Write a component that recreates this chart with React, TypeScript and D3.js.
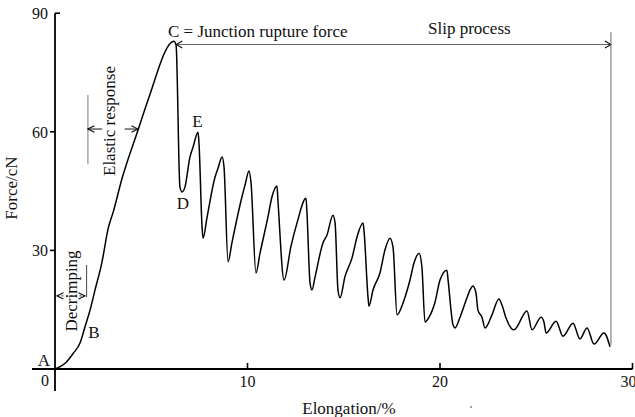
import React from "react";
import * as d3 from "d3";

const elongation: number[] = [
  0, 0.61, 0.95, 1.3, 1.56, 1.82, 2.08, 2.43, 2.77, 3.03, 3.46, 4.31, 4.83, 6.18, 6.29, 6.49, 6.6, 6.75,
  7.01, 7.17, 7.43, 7.48, 7.64, 7.69, 7.9, 8.31, 8.47, 8.68, 8.78, 8.99, 9.19, 9.71, 9.87, 10.08, 10.18,
  10.44, 10.65, 11.06, 11.27, 11.53, 11.58, 11.9, 12.26, 12.57, 13.04, 13.09, 13.25, 13.35, 13.51, 13.92,
  14.13, 14.44, 14.55, 14.7, 14.81, 15.06, 15.43, 15.69, 16.0, 16.05, 16.26, 16.31, 16.52, 16.88, 17.14,
  17.4, 17.56, 17.77, 18.08, 18.44, 18.65, 18.91, 19.06, 19.22, 19.43, 19.74, 20.0, 20.36, 20.42, 20.68,
  20.78, 21.04, 21.4, 21.56, 21.71, 21.87, 21.97, 22.18, 22.34, 22.7, 23.06, 23.22, 23.43, 23.84, 24.52,
  24.78, 25.25, 25.4, 25.51, 26.03, 26.39, 26.91, 27.27, 27.64, 28.0, 28.52, 28.62, 28.83,
];
const force: number[] = [
  0, 1.85, 3.97, 6.57, 10.7, 14.9, 20.0, 26.8, 35.7, 39.8, 47.8, 60.4, 68.0, 82.9, 81.9, 46.0, 44.8, 46.0,
  53.6, 56.1, 59.9, 57.1, 35.9, 33.1, 38.4, 48.5, 50.8, 53.6, 51.1, 27.1, 31.9, 43.5, 46.5, 50.1, 47.3,
  24.3, 29.3, 38.4, 43.5, 46.3, 42.7, 22.5, 31.1, 36.9, 43.2, 39.4, 21.7, 20.0, 23.3, 31.9,
  33.9, 38.9, 36.9, 20.0, 18.0, 23.3, 28.1, 33.4, 36.9, 35.1, 18.2, 15.9, 20.0, 24.3, 30.1,
  33.1, 30.8, 13.7, 16.7, 22.5, 26.8, 29.3, 25.8, 11.9, 13.1, 16.9, 22.5, 25.0, 22.5, 11.1,
  10.4, 13.1, 18.0, 20.0, 21.0, 19.2, 14.9, 13.1, 10.4, 13.7, 17.7, 16.2, 12.9, 9.9, 14.7,
  9.9, 13.1, 11.9, 9.1, 12.1, 8.3, 11.6, 7.6, 10.4, 6.3, 9.1, 8.6, 5.6,
];

const xTicks: number[] = [10, 20, 30];
const yTicks: number[] = [30, 60, 90];

const W = 635;
const H = 417;

export default function App() {
  const x = d3.scaleLinear().domain([0, 30]).range([55, 632.5]);
  const y = d3.scaleLinear().domain([0, 90]).range([369, 13.2]);
  const pts: [number, number][] = elongation.map((e, i) => [e, force[i]]);
  const line = d3
    .line<[number, number]>()
    .x((d) => x(d[0]))
    .y((d) => y(d[1]))
    .curve(d3.curveMonotoneX);

  const font = "'Liberation Serif', 'Times New Roman', serif";
  const txt = { fontFamily: font, fontSize: 17, fill: "#111" } as const;

  return (
    <div style={{ position: "absolute", left: 0, top: 0 }}>
      <svg width={W} height={H} viewBox={`0 0 ${W} ${H}`} style={{ display: "block", background: "#fff" }}>
        <defs>
          <marker id="arr" viewBox="0 0 8 8" refX="7.5" refY="4" markerWidth="8" markerHeight="8" orient="auto-start-reverse" markerUnits="userSpaceOnUse">
            <path d="M1,0.8 L7.5,4 L1,7.2" fill="none" stroke="#111" strokeWidth={1.2} />
          </marker>
        </defs>

        {/* axes */}
        <line x1={x(0)} x2={x(0)} y1={y(90)} y2={391} stroke="#000" strokeWidth={1.8} />
        <line x1={32} x2={x(30)} y1={y(0)} y2={y(0)} stroke="#000" strokeWidth={1.8} />
        {yTicks.map((t) => (
          <g key={"y" + t}>
            <line
              x1={t === 90 ? x(0) : x(0) - 5}
              x2={t === 90 ? x(0) + 5 : x(0)}
              y1={y(t)}
              y2={y(t)}
              stroke="#000"
              strokeWidth={1.6}
            />
            <text x={48} y={y(t) + 6} textAnchor="end" style={{ ...txt, fontSize: 16 }}>
              {t}
            </text>
          </g>
        ))}
        {xTicks.map((t) => (
          <g key={"x" + t}>
            <line x1={x(t)} x2={x(t)} y1={y(0)} y2={y(0) - 6} stroke="#000" strokeWidth={1.6} />
            <text x={t === 30 ? x(t) - 4 : x(t)} y={387} textAnchor="middle" style={{ ...txt, fontSize: 16 }}>
              {t}
            </text>
          </g>
        ))}
        <text x={45} y={386} textAnchor="middle" style={{ ...txt, fontSize: 16 }}>
          0
        </text>

        {/* axis titles */}
        <text transform={`translate(17,188) rotate(-90)`} textAnchor="middle" style={txt}>
          Force/cN
        </text>
        <text x={349} y={414} textAnchor="middle" style={txt}>
          Elongation/%
        </text>
        <circle cx={471} cy={407} r={0.9} fill="#777" />

        {/* curve */}
        <path d={line(pts) ?? ""} fill="none" stroke="#000" strokeWidth={1.5} strokeLinejoin="round" />

        {/* point labels */}
        <text x={44} y={366} textAnchor="middle" style={txt}>A</text>
        <text x={94} y={338} textAnchor="middle" style={txt}>B</text>
        <text x={183} y={209} textAnchor="middle" style={txt}>D</text>
        <text x={197.5} y={127} textAnchor="middle" style={txt}>E</text>
        <text x={168} y={36.5} style={txt}>C = Junction rupture force</text>
        <text x={428} y={33.5} style={txt}>Slip process</text>

        {/* slip process bracket */}
        <line x1={x(6.3)} x2={x(28.88)} y1={y(82.1)} y2={y(82.1)} stroke="#666" strokeWidth={1.1} />
        <path d={`M${x(6.3) + 6},${y(82.1) - 3.5} L${x(6.3)},${y(82.1)} L${x(6.3) + 6},${y(82.1) + 3.5}`} fill="none" stroke="#111" strokeWidth={1.2} />
        <path d={`M${x(28.88) - 6},${y(82.1) - 3.5} L${x(28.88)},${y(82.1)} L${x(28.88) - 6},${y(82.1) + 3.5}`} fill="none" stroke="#111" strokeWidth={1.2} />
        <line x1={x(28.88)} x2={x(28.88)} y1={y(85.2)} y2={y(6.0)} stroke="#777" strokeWidth={1.1} />

        {/* elastic response */}
        <line x1={x(1.71)} x2={x(1.71)} y1={y(69.3)} y2={y(51.8)} stroke="#888" strokeWidth={1.1} />
        <line x1={x(2.45)} x2={x(1.71)} y1={y(60.7)} y2={y(60.7)} stroke="#111" strokeWidth={1} markerEnd="url(#arr)" />
        <line x1={x(3.62)} x2={x(4.31)} y1={y(60.7)} y2={y(60.7)} stroke="#111" strokeWidth={1} markerEnd="url(#arr)" />
        <text transform={`translate(115,121) rotate(-90)`} textAnchor="middle" style={txt}>
          Elastic response
        </text>

        {/* decrimping */}
        <line x1={x(1.64)} x2={x(1.64)} y1={y(26.3)} y2={y(18.2)} stroke="#555" strokeWidth={1.1} />
        <line x1={x(0.1)} x2={x(1.56)} y1={y(18.5)} y2={y(18.5)} stroke="#333" strokeWidth={1} strokeDasharray="2,2.5" markerStart="url(#arr)" markerEnd="url(#arr)" />
        <text transform={`translate(77,291) rotate(-90)`} textAnchor="middle" style={txt}>
          Decrimping
        </text>
      </svg>
    </div>
  );
}
